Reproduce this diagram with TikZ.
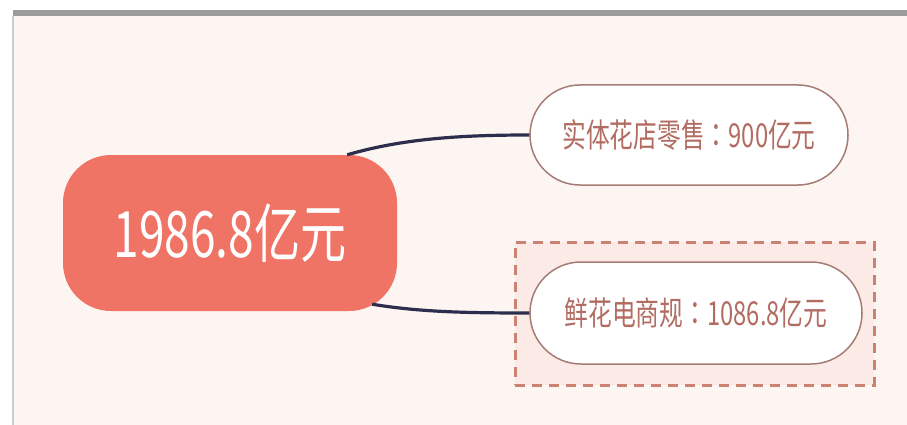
\documentclass[tikz,border=0pt]{standalone}
\usepackage{fontspec}
\newfontfamily\cjk[FakeStretch=0.72]{Noto Sans CJK SC}
\newfontfamily\cjkpunct[FakeStretch=0.72]{Noto Sans CJK TC}
\usetikzlibrary{shapes.misc}
\definecolor{bgpink}{RGB}{253,245,241}
\definecolor{rootred}{RGB}{240,116,101}
\definecolor{childtext}{RGB}{178,108,98}
\definecolor{childline}{RGB}{165,125,118}
\definecolor{framefill}{RGB}{252,234,230}
\definecolor{framedash}{RGB}{204,130,114}
\definecolor{linknavy}{RGB}{45,46,78}
\definecolor{bargray}{RGB}{155,155,155}
\tikzset{
  rootbox/.style={rectangle, rounded corners=48pt, fill=rootred, draw=none,
    minimum width=334pt, minimum height=156pt, inner sep=0pt,
    text=white, font=\cjk\fontsize{64}{64}\selectfont},
  childbox/.style={rounded rectangle, fill=white, draw=childline, line width=1.5pt,
    inner sep=0pt, text=childtext, font=\cjk\fontsize{33}{33}\selectfont},
  framebox/.style={rectangle, draw=framedash, fill=framefill, line width=3pt,
    dash pattern=on 10pt off 7pt, inner sep=0pt},
  link/.style={draw=linknavy, line width=3.2pt}
}
\begin{document}
\begin{tikzpicture}[x=1pt,y=-1pt]
\useasboundingbox (0,0) rectangle (907,425);
\fill[white] (0,0) rectangle (907,425);
\fill[bgpink] (13,16) rectangle (907,425);
\fill[bargray] (13,10) rectangle (907,16);
\draw[black!20, line width=1.2pt] (13,16) -- (13,425);

\node[framebox, minimum width=359pt, minimum height=143pt] (frame) at (694.5,313.5) {};

\node[rootbox] (root) at (230,233) {1986.8亿元};
\node[childbox, minimum width=318pt, minimum height=100pt] (c1) at (689,135) {实体花店零售{\cjkpunct ：}900亿元};
\node[childbox, minimum width=332pt, minimum height=102pt] (c2) at (696,313) {鲜花电商规{\cjkpunct ：}1086.8亿元};

\coordinate (s1) at ([xshift=-50pt]root.north east);
\coordinate (s2) at ([xshift=-25pt,yshift=7pt]root.south east);

\draw[link] (s1) .. controls ++(55,-16) and ++(-70,0) .. (c1.west);
\draw[link] (s2) .. controls ++(48,8) and ++(-60,0) .. (c2.west);
\end{tikzpicture}
\end{document}
